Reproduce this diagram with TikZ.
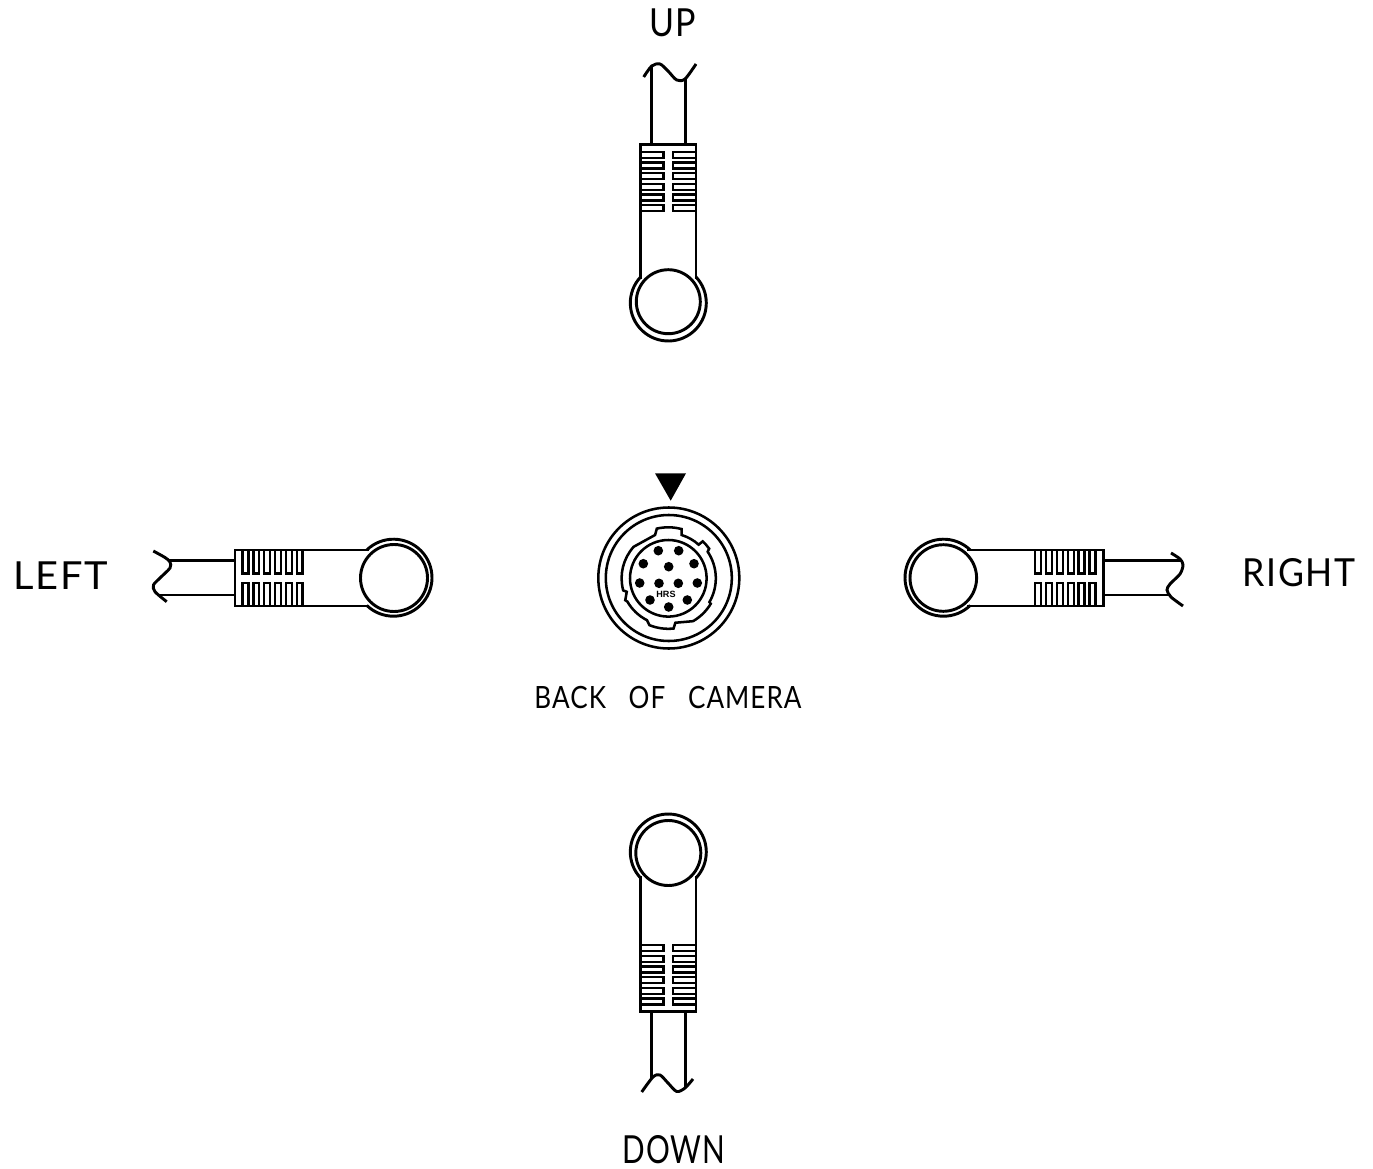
\documentclass[tikz,border=0pt]{standalone}
\usepackage{fontspec}
\setmainfont{Liberation Sans}
\newfontfamily\labelfont[LetterSpace=4]{Lato}
\newcommand{\bigtext}[2]{\labelfont\fontsize{29pt}{29pt}\selectfont\scalebox{#1}[1]{#2}}
\newcommand{\midtext}[2]{\labelfont\fontsize{23pt}{23pt}\selectfont\scalebox{#1}[1]{#2}}
\tikzset{
  bodyline/.style={draw=black,line width=2.200pt},
  toothline/.style={draw=black,line width=1.800pt},
  ringline/.style={draw=black,line width=1.900pt},
  headcircle/.style={draw=black,fill=white,line width=2.200pt}
}

\begin{document}
\begin{tikzpicture}[y=0.75pt,x=0.75pt,yscale=-1, inner sep=0pt, outer sep=0pt]
      \path[use as bounding box] (0.0000,0.0000) rectangle (1373.0000,1169.0000);
      % up
      \path[bodyline] (640.7000,279.0000) -- (640.7000,144.3000) -- (696.0000,144.3000) -- (696.0000,279.0000);
      \path[bodyline] (651.7000,144.3000) -- (651.7000,66.0000);
      \path[bodyline] (685.7000,144.3000) -- (685.7000,79.0000);
      \path[bodyline] plot[smooth] coordinates {(643.7,77) (651.7,66) (660,64) (668,71) (676.7,80) (685,79) (696,64)};
      \path[toothline] (640.7,152.0) rectangle (663.3,158.0) (640.7,162.7) rectangle (663.3,168.7)
        (640.7,173.3) rectangle (663.3,179.3) (640.7,184.0) rectangle (663.3,190.0)
        (640.7,194.7) rectangle (663.3,200.7) (640.7,205.3) rectangle (663.3,211.3);
      \path[toothline] (672.7,152.0) rectangle (696.0,158.0) (672.7,162.7) rectangle (696.0,168.7)
        (672.7,173.3) rectangle (696.0,179.3) (672.7,184.0) rectangle (696.0,190.0)
        (672.7,194.7) rectangle (696.0,200.7) (672.7,205.3) rectangle (696.0,211.3);
      \path[bodyline] (668.3,303.0) ++(223.4:38.0) arc[start angle=223.4,end angle=-43.4,radius=38.0];
      \path[headcircle] (668.3,301.7) circle (32.0);
      % down
      \path[bodyline] (640.7000,876.0000) -- (640.7000,1011.7000) -- (696.0000,1011.7000) -- (696.0000,876.0000);
      \path[bodyline] (651.7000,1011.7000) -- (651.7000,1078.0000);
      \path[bodyline] (685.7000,1011.7000) -- (685.7000,1088.0000);
      \path[bodyline] plot[smooth] coordinates {(641.7,1092) (653,1077) (660,1075) (668,1083) (676.7,1091.5) (685,1088) (693,1079)};
      \path[toothline] (640.7,945.0) rectangle (663.3,951.0) (640.7,955.7) rectangle (663.3,961.7)
        (640.7,966.3) rectangle (663.3,972.3) (640.7,977.0) rectangle (663.3,983.0)
        (640.7,987.7) rectangle (663.3,993.7) (640.7,998.3) rectangle (663.3,1004.3);
      \path[toothline] (672.7,945.0) rectangle (696.0,951.0) (672.7,955.7) rectangle (696.0,961.7)
        (672.7,966.3) rectangle (696.0,972.3) (672.7,977.0) rectangle (696.0,983.0)
        (672.7,987.7) rectangle (696.0,993.7) (672.7,998.3) rectangle (696.0,1004.3);
      \path[bodyline] (668.3,852.0) ++(136.6:38.0) arc[start angle=136.6,end angle=403.4,radius=38.0];
      \path[headcircle] (668.3,853.0) circle (32.5);
      % left
      \path[bodyline] (369.0000,550.0000) -- (235.0000,550.0000) -- (235.0000,606.0000) -- (369.0000,606.0000);
      \path[bodyline] (235.0000,560.7000) -- (168.5000,560.7000);
      \path[bodyline] (235.0000,595.0000) -- (159.0000,595.0000);
      \path[bodyline] plot[smooth] coordinates {(153.3,551) (165,557.5) (170,562) (170,568) (160,578) (153.5,585) (155,591.7) (166.7,601.7)};
      \path[toothline] (242.5,550.0) rectangle (248.3,573.3) (253.4,550.0) rectangle (259.2,573.3)
        (264.2,550.0) rectangle (270.0,573.3) (275.1,550.0) rectangle (280.9,573.3)
        (286.0,550.0) rectangle (291.8,573.3) (296.8,550.0) rectangle (302.6,573.3);
      \path[toothline] (242.5,582.7) rectangle (248.3,606.0) (253.4,582.7) rectangle (259.2,606.0)
        (264.2,582.7) rectangle (270.0,606.0) (275.1,582.7) rectangle (280.9,606.0)
        (286.0,582.7) rectangle (291.8,606.0) (296.8,582.7) rectangle (302.6,606.0);
      \path[bodyline] (393.5,577.7) ++(226:38.5) arc[start angle=226,end angle=494,radius=38.5];
      \path[headcircle] (394.0,578.0) circle (33.5);
      % right
      \path[bodyline] (967.0000,550.0000) -- (1103.3000,550.0000) -- (1103.3000,606.0000) -- (967.0000,606.0000);
      \path[bodyline] (1103.3000,560.7000) -- (1181.5000,560.7000);
      \path[bodyline] (1103.3000,595.0000) -- (1169.0000,595.0000);
      \path[bodyline] plot[smooth] coordinates {(1171,553) (1180,559) (1183,565) (1180,574) (1170,584) (1167,590) (1171,597) (1183,606)};
      \path[toothline] (1035.0,550.0) rectangle (1041.0,573.3) (1046.0,550.0) rectangle (1052.0,573.3)
        (1056.8,550.0) rectangle (1062.8,573.3) (1067.7,550.0) rectangle (1073.7,573.3)
        (1078.6,550.0) rectangle (1084.6,573.3) (1089.5,550.0) rectangle (1095.5,573.3);
      \path[toothline] (1035.0,582.7) rectangle (1041.0,606.0) (1046.0,582.7) rectangle (1052.0,606.0)
        (1056.8,582.7) rectangle (1062.8,606.0) (1067.7,582.7) rectangle (1073.7,606.0)
        (1078.6,582.7) rectangle (1084.6,606.0) (1089.5,582.7) rectangle (1095.5,606.0);
      \path[bodyline] (943.5,577.7) ++(-46:38.5) arc[start angle=-46,end angle=-314,radius=38.5];
      \path[headcircle] (943.3,578.0) circle (33.3);
      % back of camera
      \path[fill=black] (655.0000,473.3000) -- (686.0000,473.3000) -- (670.7000,500.7000) -- cycle;
      \path[ringline] (668.8,578.0) circle (70.5);
      \path[ringline] (668.8,578.0) circle (63.0);
      \path[ringline] (668.3,578.3) circle (38.3);
      \begin{scope}[shift={(668.3,578.3)},yscale=-1]
        \path[ringline] (107:45.3) -- (103:51.0) arc[start angle=103,end angle=75,radius=51.0]
          -- (73:45.3) arc[start angle=73,end angle=48,radius=45.3]
          -- (47:50.5) arc[start angle=47,end angle=36,radius=50.5]
          -- (34:47.5) arc[start angle=34,end angle=-30,radius=47.5]
          -- (-31:49.5) arc[start angle=-31,end angle=-60,radius=49.5]
          -- (-81:45.0) -- (-84:50.5) arc[start angle=-84,end angle=-112,radius=50.5]
          -- (-117:47.0) arc[start angle=-117,end angle=-150,radius=47.5]
          -- (-153:48.3) -- (-162:43.7) -- (-165:46.7) arc[start angle=-165,end angle=-222,radius=47.0]
          -- cycle;
      \end{scope}
      \path[fill=black] (658.3,550.7) circle (4.8);
      \path[fill=black] (678.7,550.7) circle (4.8);
      \path[fill=black] (643.3,563.7) circle (4.8);
      \path[fill=black] (668.7,566.7) circle (4.8);
      \path[fill=black] (694.0,563.7) circle (4.8);
      \path[fill=black] (639.7,583.0) circle (4.8);
      \path[fill=black] (659.0,583.3) circle (4.8);
      \path[fill=black] (678.3,583.3) circle (4.8);
      \path[fill=black] (697.3,583.0) circle (4.8);
      \path[fill=black] (650.0,600.0) circle (4.8);
      \path[fill=black] (687.3,600.0) circle (4.8);
      \path[fill=black] (668.7,607.0) circle (4.8);
      \node (hrs) at (666.0,594.0) {\fontsize{6.8pt}{6.8pt}\selectfont\bfseries HRS};
      \node (up) at (673.0,23.0) {\bigtext{0.88}{UP}};
      \node (left) at (60.5,575.5) {\bigtext{1.03}{LEFT}};
      \node (right) at (1299.0,573.0) {\bigtext{0.92}{RIGHT}};
      \node (down) at (674.0,1150.0) {\bigtext{0.77}{DOWN}};
      \node (back) at (668.0,698.0) {\midtext{0.85}{BACK\hspace{20pt}OF\hspace{20pt}CAMERA}};
  \end{tikzpicture}
\end{document}
